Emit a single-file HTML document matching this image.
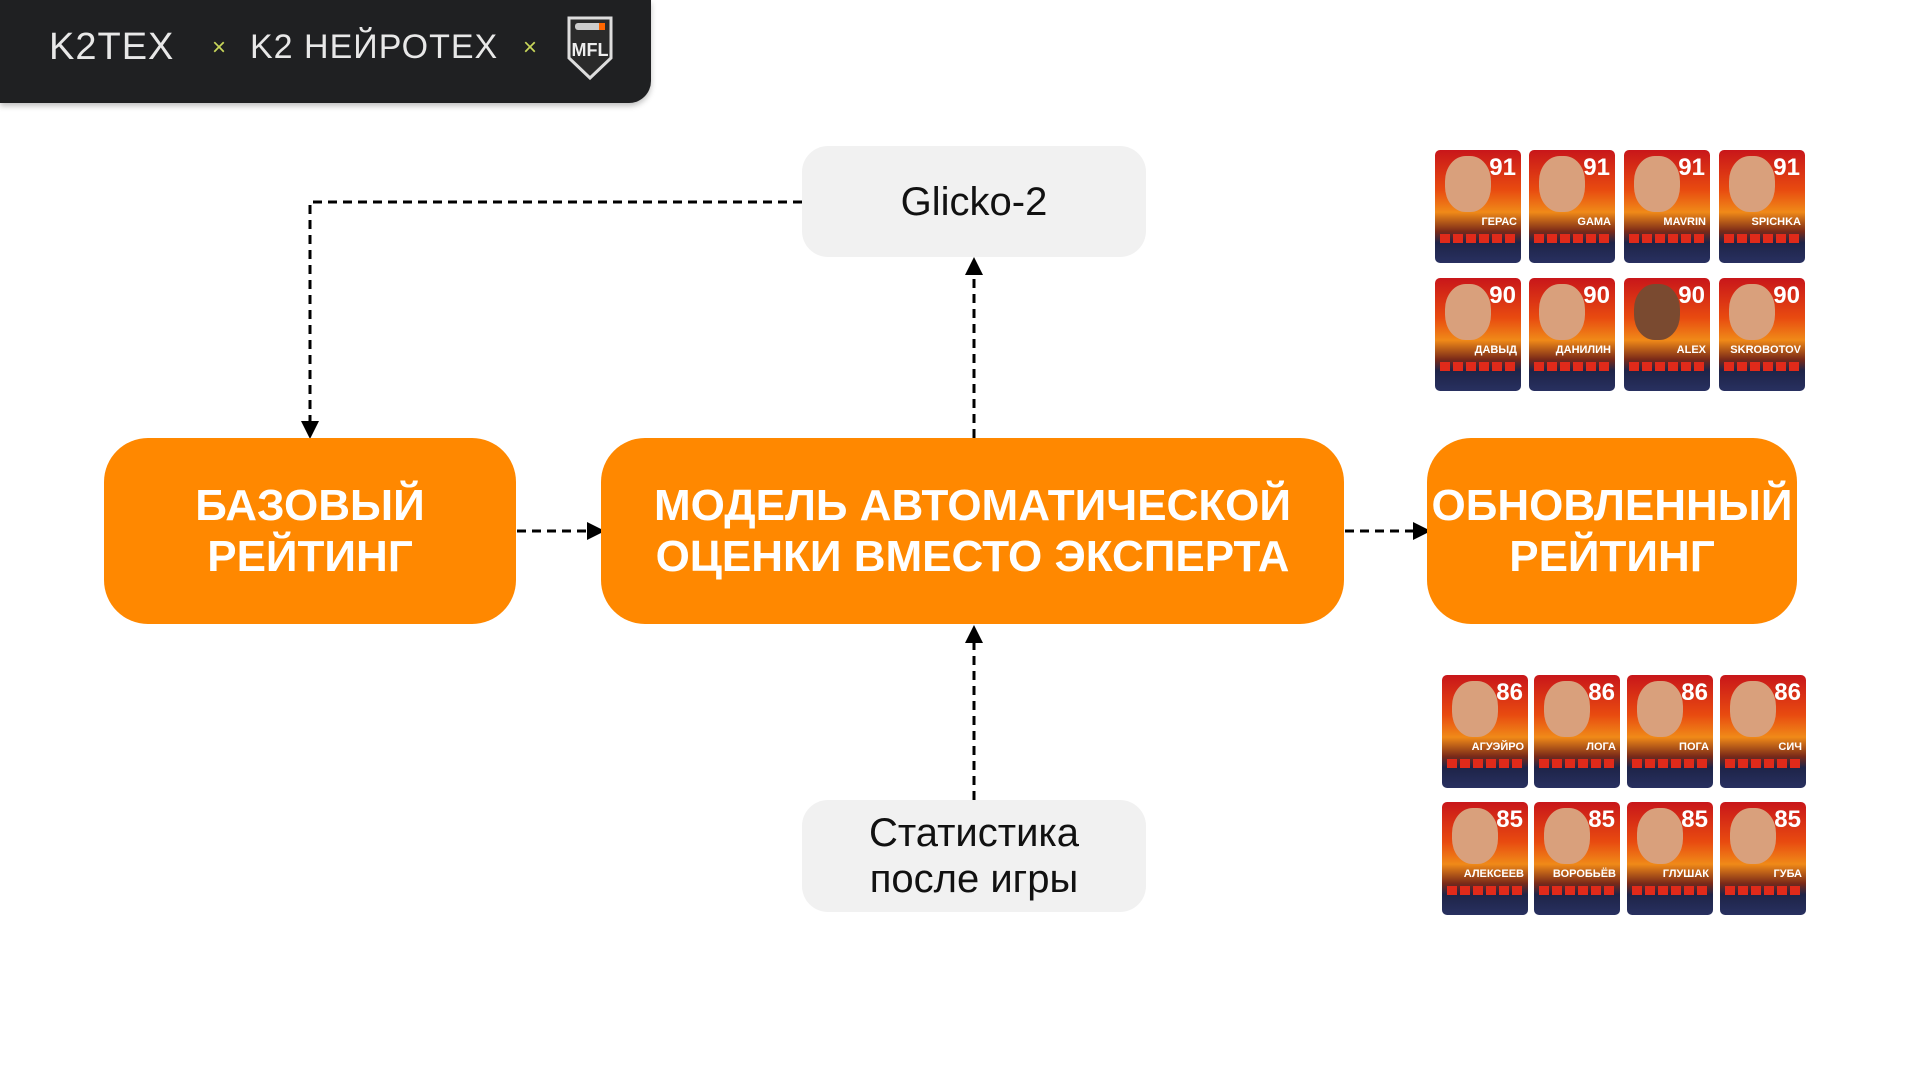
<!DOCTYPE html>
<html><head><meta charset="utf-8"><style>
body{margin:0;width:1920px;height:1080px;background:#fff;position:relative;overflow:hidden;font-family:"Liberation Sans",sans-serif}
.hdr{position:absolute;left:0;top:0;width:651px;height:103px;background:#1f2022;border-bottom-right-radius:22px;box-shadow:0 3px 6px rgba(0,0,0,.25)}
.ht{position:absolute;top:26px;color:#e8e8e8;font-size:38px;letter-spacing:1px;font-weight:300}
.x{position:absolute;top:34px;color:#c8d65a;font-size:24px}
.box{position:absolute;background:#ff8800;border-radius:44px;color:#fff;font-weight:bold;font-size:44px;text-align:center;display:flex;align-items:center;justify-content:center;line-height:51px}
.g{position:absolute;background:#f1f1f1;border-radius:26px;color:#111;font-size:40px;text-align:center;display:flex;align-items:center;justify-content:center;line-height:46px}
.c{position:absolute;width:86px;height:113px;border-radius:5px;background:linear-gradient(180deg,#c8161a 0%,#e84a10 35%,#f08a18 55%,#7a2a18 72%,#1e2448 82%,#283060 100%);overflow:hidden}
.c .f{position:absolute;left:10px;top:6px;width:46px;height:56px;border-radius:45%;background:#d9a07c}
.c .n{position:absolute;right:5px;top:4px;color:#fff;font-weight:bold;font-size:24px}
.c .nm{position:absolute;right:4px;top:66px;color:#fff;font-weight:bold;font-size:11px}
.c .s{position:absolute;left:5px;right:5px;top:84px;height:9px;background:repeating-linear-gradient(90deg,#e02a1a 0 10px,transparent 10px 13px)}
</style></head><body>
<div class="hdr">
<div class="ht" style="left:49px">K2TEX</div>
<div class="x" style="left:212px">×</div>
<div class="ht" style="left:250px;font-size:34px;top:28px">K2 НЕЙРОТЕХ</div>
<div class="x" style="left:523px">×</div>
<svg style="position:absolute;left:565px;top:14px" width="50" height="68" viewBox="0 0 50 68"><path d="M4 4h42v40l-21 20-21-20z" fill="#2a2a2a" stroke="#ddd" stroke-width="3"/><rect x="10" y="9" width="30" height="7" rx="3" fill="#ccc"/><rect x="34" y="9" width="6" height="7" fill="#f60"/><text x="25" y="42" fill="#eee" font-size="18" font-weight="bold" text-anchor="middle" font-family="Liberation Sans">MFL</text></svg>
</div>

<svg style="position:absolute;left:0;top:0" width="1920" height="1080">
<defs><marker id="a" markerWidth="6" markerHeight="6" refX="3" refY="3" orient="auto"><path d="M0,0L6,3L0,6z" fill="#000"/></marker></defs>
<g stroke="#000" stroke-width="3" stroke-dasharray="9,6" fill="none">
<path d="M802 202H310V430" marker-end="url(#a)"/>
<path d="M974 438V266" marker-end="url(#a)"/>
<path d="M974 800V634" marker-end="url(#a)"/>
<path d="M517 531H596" marker-end="url(#a)"/>
<path d="M1345 531H1422" marker-end="url(#a)"/>
</g></svg>

<div class="g" style="left:802px;top:146px;width:344px;height:111px">Glicko-2</div>
<div class="g" style="left:802px;top:800px;width:344px;height:112px">Статистика<br>после игры</div>
<div class="box" style="left:104px;top:438px;width:412px;height:186px">БАЗОВЫЙ<br>РЕЙТИНГ</div>
<div class="box" style="left:601px;top:438px;width:743px;height:186px">МОДЕЛЬ АВТОМАТИЧЕСКОЙ<br>ОЦЕНКИ ВМЕСТО ЭКСПЕРТА</div>
<div class="box" style="left:1427px;top:438px;width:370px;height:186px">ОБНОВЛЕННЫЙ<br>РЕЙТИНГ</div>

<div class="c" style="left:1435px;top:150px"><div class="f"></div><div class="n">91</div><div class="nm">ГЕРАС</div><div class="s"></div></div>
<div class="c" style="left:1529px;top:150px"><div class="f"></div><div class="n">91</div><div class="nm">GAMA</div><div class="s"></div></div>
<div class="c" style="left:1624px;top:150px"><div class="f"></div><div class="n">91</div><div class="nm">MAVRIN</div><div class="s"></div></div>
<div class="c" style="left:1719px;top:150px"><div class="f"></div><div class="n">91</div><div class="nm">SPICHKA</div><div class="s"></div></div>
<div class="c" style="left:1435px;top:278px"><div class="f"></div><div class="n">90</div><div class="nm">ДАВЫД</div><div class="s"></div></div>
<div class="c" style="left:1529px;top:278px"><div class="f"></div><div class="n">90</div><div class="nm">ДАНИЛИН</div><div class="s"></div></div>
<div class="c" style="left:1624px;top:278px"><div class="f" style="background:#7a4a30"></div><div class="n">90</div><div class="nm">ALEX</div><div class="s"></div></div>
<div class="c" style="left:1719px;top:278px"><div class="f"></div><div class="n">90</div><div class="nm">SKROBOTOV</div><div class="s"></div></div>

<div class="c" style="left:1442px;top:675px"><div class="f"></div><div class="n">86</div><div class="nm">АГУЭЙРО</div><div class="s"></div></div>
<div class="c" style="left:1534px;top:675px"><div class="f"></div><div class="n">86</div><div class="nm">ЛОГА</div><div class="s"></div></div>
<div class="c" style="left:1627px;top:675px"><div class="f"></div><div class="n">86</div><div class="nm">ПОГА</div><div class="s"></div></div>
<div class="c" style="left:1720px;top:675px"><div class="f"></div><div class="n">86</div><div class="nm">СИЧ</div><div class="s"></div></div>
<div class="c" style="left:1442px;top:802px"><div class="f"></div><div class="n">85</div><div class="nm">АЛЕКСЕЕВ</div><div class="s"></div></div>
<div class="c" style="left:1534px;top:802px"><div class="f"></div><div class="n">85</div><div class="nm">ВОРОБЬЁВ</div><div class="s"></div></div>
<div class="c" style="left:1627px;top:802px"><div class="f"></div><div class="n">85</div><div class="nm">ГЛУШАК</div><div class="s"></div></div>
<div class="c" style="left:1720px;top:802px"><div class="f"></div><div class="n">85</div><div class="nm">ГУБА</div><div class="s"></div></div>
</body></html>
